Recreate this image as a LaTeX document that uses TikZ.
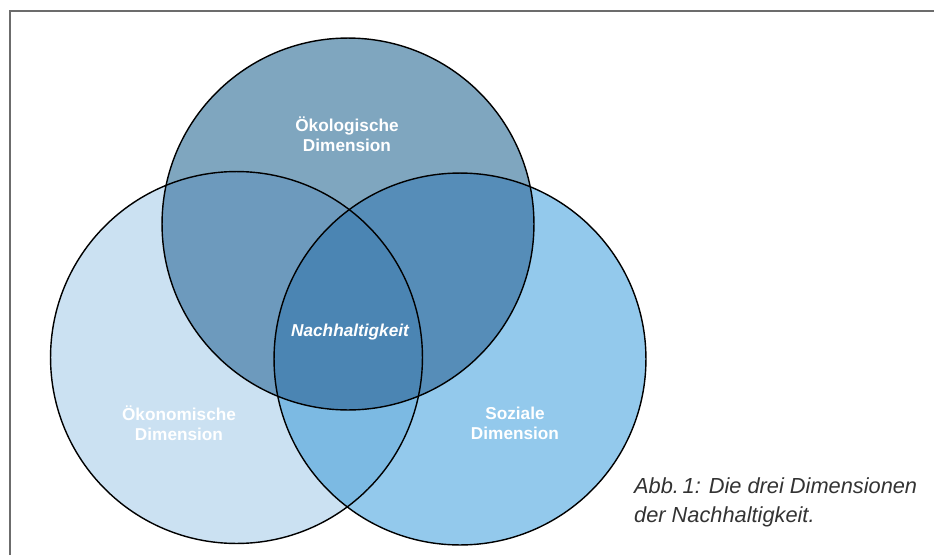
\documentclass[tikz,border=0pt]{standalone}
\usepackage{fontspec}
\setmainfont{Liberation Sans}
\definecolor{oekoC}{HTML}{7FA6BF}
\definecolor{oekonC}{HTML}{CBE1F2}
\definecolor{sozC}{HTML}{93C9EC}
\definecolor{oeoeC}{HTML}{6D9ABD}
\definecolor{oesoC}{HTML}{568DB8}
\definecolor{onsoC}{HTML}{7CBAE3}
\definecolor{midC}{HTML}{4B85B3}
\begin{document}
\begin{tikzpicture}[x=0.02cm,y=-0.02cm, every node/.style={font=\fontsize{9.8}{11.4}\selectfont}]
 \tikzset{ring/.style={draw=black,line width=0.8pt},
  dimlbl/.style={text=white,font=\bfseries\fontsize{9.8}{11.4}\selectfont,align=center}}
 \useasboundingbox (0,0) rectangle (934,555);
 \draw[gray!85!black,line width=1.1pt] (10,555) -- (10,11) -- (934,11);
 \coordinate (oeko) at (348,224);
 \coordinate (oekon) at (236.5,357.5);
 \coordinate (sozial) at (460,359);
 % single circles
 \fill[oekoC] (oeko) circle[radius=3.72cm];
 \fill[oekonC] (oekon) circle[radius=3.72cm];
 \fill[sozC] (sozial) circle[radius=3.72cm];
 % overlaps
 \begin{scope}
  \clip (oeko) circle[radius=3.72cm];
  \fill[oeoeC] (oekon) circle[radius=3.72cm];
  \fill[oesoC] (sozial) circle[radius=3.72cm];
 \end{scope}
 \begin{scope}
  \clip (oekon) circle[radius=3.72cm];
  \fill[onsoC] (sozial) circle[radius=3.72cm];
  \clip (oeko) circle[radius=3.72cm];
  \fill[midC] (sozial) circle[radius=3.72cm];
 \end{scope}
 \draw[ring] (oeko) circle[radius=3.72cm];
 \draw[ring] (oekon) circle[radius=3.72cm];
 \draw[ring] (sozial) circle[radius=3.72cm];
 % labels
 \node[dimlbl] (oekolbl) at (347,134) {Ökologische\\Dimension};
 \node[dimlbl] (oekonlbl) at (179,423) {Ökonomische\\Dimension};
 \node[dimlbl] (sozlbl) at (515,423) {Soziale\\Dimension};
 \node[text=white,font=\bfseries\itshape\fontsize{9.8}{11.4}\selectfont]
  (nachlbl) at (350,332) {Nachhaltigkeit};
 \node[anchor=west,align=left,text=black!80,font=\itshape\fontsize{12.4}{16.5}\selectfont]
  (caption) at (628,502) {Abb.\,1: Die drei Dimensionen\\der Nachhaltigkeit.};
\end{tikzpicture}
\end{document}
